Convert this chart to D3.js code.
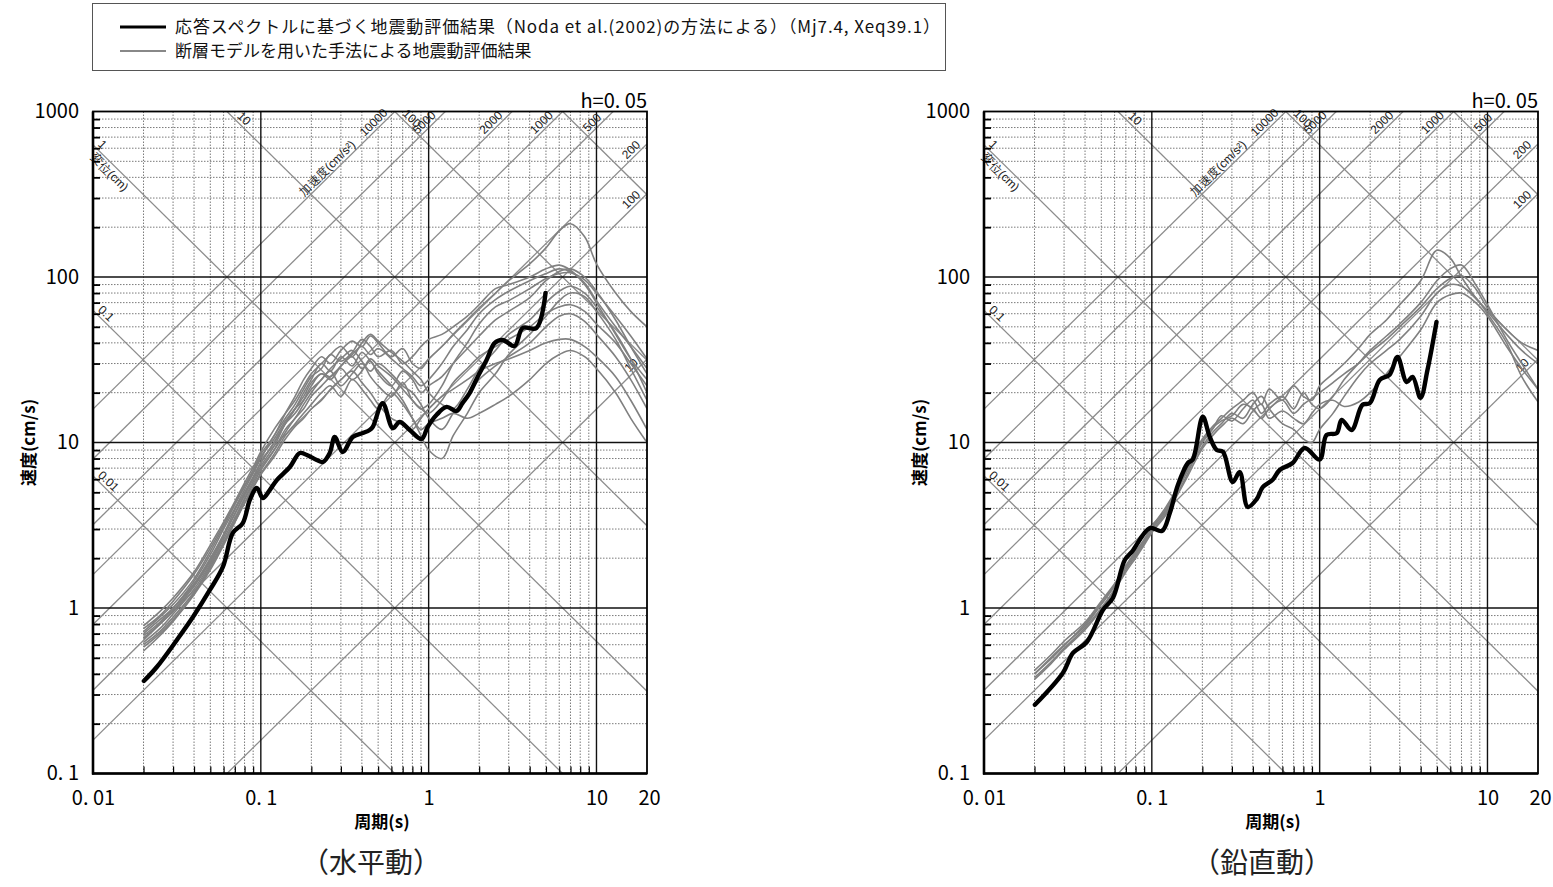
<!DOCTYPE html>
<html><head><meta charset="utf-8">
<script src="https://cdn.jsdelivr.net/npm/d3@7"></script>
<style>
body{margin:0;background:#fff;}
svg{display:block;}
</style></head><body>
<svg id="chart" width="1553" height="887"></svg>
<script>
// ---------------- DATA ----------------
const legendLabels = ["応答スペクトルに基づく地震動評価結果（Noda et al.(2002)の方法による）（Mj7.4, Xeq39.1）",
                      "断層モデルを用いた手法による地震動評価結果"];
const captions = ["（水平動）", "（鉛直動）"];
const xTitle = "周期(s)";
const yTitle = "速度(cm/s)";
const dampingLabel = "h=0. 05";
const xTickValues = [0.01, 0.1, 1, 10, 20];
const xTickLabels = ["0. 01", "0. 1", "1", "10", "20"];
const yTickValues = [0.1, 1, 10, 100, 1000];
const yTickLabels = ["0. 1", "1", "10", "100", "1000"];
const dispLines = [0.01, 0.1, 1, 10, 100, 1000];          // cm
const accLines = [10, 100, 200, 500, 1000, 2000, 5000, 10000]; // cm/s2
const dispLeftLabels = [0.01, 0.1, 1];
const dispTopLabels = [10, 100];
const accTopLabels = [500, 1000, 2000, 5000, 10000];
const accRightLabels = [10, 100, 200];

// Noda et al. (horizontal)
const nodaT_H = [0.0201,0.024,0.0316,0.0394,0.0497,0.0594,0.0681,0.0781,0.086,0.0947,0.1028,0.113,0.1245,0.149,0.1707,0.188,0.2154,0.234,0.2575,0.2757,0.3077,0.353,0.405,0.445,0.464,0.532,0.611,0.672,0.771,0.908,0.986,1.116,1.28,1.468,1.59,1.754,1.957,2.214,2.47,2.76,3.25,3.63,4.39,4.97];
const nodaSv_H = [0.362,0.44,0.641,0.882,1.285,1.77,2.84,3.26,4.5,5.31,4.62,5.16,5.93,7.11,8.64,8.4,7.84,7.62,8.64,10.8,8.76,10.8,11.4,11.9,12.4,17.3,12.2,13.3,11.9,10.5,12.4,14.7,16.4,15.5,17.3,19.9,24.9,31.5,39.9,41.6,38.3,49.2,49.2,80];
// Noda et al. (vertical)
const nodaT_V = [0.0201,0.0295,0.0339,0.041,0.0511,0.0586,0.069,0.076,0.0973,0.1148,0.128,0.143,0.164,0.1754,0.2012,0.2215,0.2438,0.265,0.3035,0.334,0.3727,0.4217,0.458,0.525,0.578,0.69,0.814,1.0,1.10,1.264,1.352,1.55,1.80,1.99,2.28,2.61,2.91,3.30,3.58,3.99,4.39,4.97];
const nodaSv_V = [0.26,0.405,0.535,0.623,0.973,1.15,1.95,2.18,3.04,2.92,3.75,5.54,7.52,7.9,14.3,10.8,9.0,8.8,5.77,6.63,4.08,4.55,5.38,5.96,6.82,7.52,9.26,7.9,11.1,11.4,13.7,11.9,16.9,17.3,23.9,25.7,32.9,23.2,24.9,18.6,27.4,53.5];

// fault-model results, periods shared
const faultT = [0.02,0.025,0.03,0.04,0.05,0.06,0.07,0.08,0.09,0.1,0.12,0.14,0.16,0.18,0.2,0.23,0.26,0.3,0.35,0.4,0.45,0.5,0.6,0.7,0.8,0.9,1.0,1.2,1.4,1.7,2.0,2.5,3.0,4.0,5.0,6.0,7.0,8.5,10,13,16,20];
const faultSv_H = [
 [0.75,0.9,1.1,1.6,2.3,3.2,4.3,5.5,6.8,8.5,11,15,19,24,28,33,30,36,41,38,44,40,33,37,30,28,32,38,45,55,65,80,95,120,150,190,210,175,120,80,62,50],
 [0.7,0.85,1.0,1.45,2.1,3.0,4.0,5.2,6.5,8,11,14,17,21,25,28,34,31,35,42,38,33,36,30,33,38,42,45,50,58,68,85,90,100,112,118,110,90,70,45,32,24],
 [0.65,0.8,0.95,1.35,1.9,2.7,3.7,4.8,6,7.2,9.5,13,16,19,23,26,25,29,33,28,31,26,22,27,24,20,22,25,30,37,44,55,62,75,95,108,112,100,82,55,38,26],
 [0.6,0.72,0.88,1.25,1.8,2.5,3.4,4.5,5.6,6.8,9,12,14,17,20,24,27,22,26,30,25,22,19,23,18,16,15,18,23,28,33,38,42,50,60,66,68,62,52,40,30,22],
 [0.68,0.82,1.0,1.4,2.0,2.8,3.9,5,6.2,7.5,10,13,16,20,24,30,27,33,29,35,31,27,22,18,14,11,9,8,11,15,20,26,34,45,58,72,80,76,62,42,28,18],
 [0.55,0.68,0.83,1.2,1.7,2.4,3.3,4.3,5.4,6.5,8.5,11,13,15,17,20,22,19,24,21,18,16,20,17,14,12,13,14,15,14,15,17,19,24,30,34,36,33,28,20,14,10],
 [0.72,0.88,1.05,1.5,2.2,3.1,4.2,5.4,6.6,8.2,10.5,13.5,16,18,21,24,28,32,36,31,27,30,26,22,20,17,14,12,15,19,24,29,33,40,50,58,60,54,45,33,24,16],
 [0.62,0.75,0.92,1.3,1.85,2.6,3.5,4.6,5.8,7,9,11.5,14,16,19,22,25,28,24,27,32,29,25,21,18,16,17,22,30,40,52,66,72,85,98,105,106,96,80,58,44,32],
 [0.78,0.95,1.15,1.65,2.4,3.3,4.4,5.7,7.1,8.8,12,15,18,22,26,30,34,38,33,40,45,41,35,31,27,24,20,17,16,21,28,36,45,55,70,82,88,80,66,46,32,20],
 [0.58,0.7,0.85,1.22,1.75,2.45,3.3,4.3,5.3,6.4,8.2,10.5,12.5,14,16,18,21,24,27,23,20,17,14,13,12,14,16,19,21,24,27,30,32,36,40,42,42,38,33,25,18,12],
 [0.66,0.8,0.97,1.38,1.95,2.75,3.7,4.9,6.1,7.6,10,13,15,18,22,26,24,29,34,38,34,37,32,28,25,22,24,30,38,48,60,73,82,95,105,112,108,92,72,50,38,28]
];
const faultSv_V = [
 [0.42,0.52,0.63,0.82,1.1,1.4,1.8,2.2,2.6,3.1,4.0,5.2,6.8,8.8,10.5,12.5,14,16,18,20,17,21,18,22,19,18,22,26,30,37,45,55,68,95,145,130,100,75,62,45,36,30],
 [0.4,0.5,0.6,0.78,1.05,1.35,1.75,2.1,2.5,3.0,3.8,5.0,6.5,8.2,10,12,14.5,13.5,16,18,15,17,19,16,20,17,16,19,24,30,36,44,52,70,95,112,118,90,68,42,30,21],
 [0.38,0.47,0.57,0.76,1.0,1.3,1.7,2.05,2.45,2.9,3.7,4.8,6.2,8,9.5,11.5,13,15,14,17,19,16,13,12,10.5,10,12,15,19,25,30,36,42,58,80,90,88,75,60,40,25,17.6],
 [0.4,0.49,0.59,0.8,1.07,1.38,1.78,2.15,2.55,3.05,3.9,5.1,6.6,8.5,10.2,12.2,13.5,14.5,17,16,14,16,18,15,17,18.5,20,23,26,30,35,42,50,66,85,98,102,85,65,48,40,36],
 [0.37,0.46,0.56,0.74,0.98,1.28,1.65,2.0,2.4,2.85,3.6,4.7,6,7.6,9.2,11,12.5,14,13,15.5,17,14,15.5,14,13,15,17,18,16.5,17.5,20,26,33,48,70,78,80,70,58,38,28,21]
];

// ---------------- DRAWING ----------------
const svg = d3.select("#chart");
const defs = svg.append("defs");
const TOP = 111.5, BOT = 773.5;
const numFont = "'Noto Sans CJK JP', 'DejaVu Sans', sans-serif";
const smallFont = "'Liberation Sans', Arial, sans-serif";
const TWO_PI = 2 * Math.PI;

// legend
const lg = svg.append("g");
lg.append("rect").attr("x", 92.5).attr("y", 3.5).attr("width", 853).attr("height", 67)
  .attr("fill", "none").attr("stroke", "#555").attr("stroke-width", 1);
lg.append("line").attr("x1", 120).attr("x2", 166).attr("y1", 27).attr("y2", 27).attr("stroke", "#000").attr("stroke-width", 3);
lg.append("line").attr("x1", 120).attr("x2", 166).attr("y1", 51).attr("y2", 51).attr("stroke", "#888").attr("stroke-width", 2);
lg.selectAll("text").data(legendLabels).join("text")
  .attr("x", 175).attr("y", (d, i) => 27 + i * 24).attr("dy", "0.35em")
  .attr("font-family", numFont).attr("font-size", 17).attr("fill", "#111")
  .attr("textLength", (d, i) => i === 0 ? 765 : null)
  .attr("lengthAdjust", "spacing")
  .text(d => d);

const panels = [
  {x0: 93, x1: 647, T: nodaT_H, Sv: nodaSv_H, faults: faultSv_H, caption: captions[0]},
  {x0: 984, x1: 1538, T: nodaT_V, Sv: nodaSv_V, faults: faultSv_V, caption: captions[1]}
];

panels.forEach((p, idx) => {
  const x = d3.scaleLog().domain([0.01, 20]).range([p.x0, p.x1]);
  const y = d3.scaleLog().domain([0.1, 1000]).range([BOT, TOP]);
  const ang = Math.atan((y(1) - y(10)) / (x(10) - x(1))) * 180 / Math.PI;
  const clipId = "clip" + idx;
  defs.append("clipPath").attr("id", clipId).append("rect")
    .attr("x", p.x0).attr("y", TOP).attr("width", p.x1 - p.x0).attr("height", BOT - TOP);
  const g = svg.append("g");

  // minor grid
  const minorX = [], minorY = [];
  [0.01, 0.1, 1].forEach(b => { for (let m = 2; m <= 9; m++) minorX.push(b * m); });
  [0.1, 1, 10, 100].forEach(b => { for (let m = 2; m <= 9; m++) minorY.push(b * m); });
  g.append("g").selectAll("line").data(minorX).join("line")
    .attr("x1", d => x(d)).attr("x2", d => x(d)).attr("y1", TOP).attr("y2", BOT)
    .attr("stroke", "#7a7a7a").attr("stroke-width", 1).attr("stroke-dasharray", "1.5,1.5");
  g.append("g").selectAll("line").data(minorY).join("line")
    .attr("y1", d => y(d)).attr("y2", d => y(d)).attr("x1", p.x0).attr("x2", p.x1)
    .attr("stroke", "#7a7a7a").attr("stroke-width", 1).attr("stroke-dasharray", "1.5,1.5");

  // diagonal tripartite lines
  const dg = g.append("g").attr("clip-path", `url(#${clipId})`);
  dg.selectAll(".disp").data(dispLines).join("line").attr("class", "disp")
    .attr("x1", x(0.01)).attr("y1", d => y(TWO_PI * d / 0.01))
    .attr("x2", x(20)).attr("y2", d => y(TWO_PI * d / 20))
    .attr("stroke", "#8c8c8c").attr("stroke-width", 1.3);
  dg.selectAll(".acc").data(accLines).join("line").attr("class", "acc")
    .attr("x1", x(0.01)).attr("y1", d => y(d * 0.01 / TWO_PI))
    .attr("x2", x(20)).attr("y2", d => y(d * 20 / TWO_PI))
    .attr("stroke", "#8c8c8c").attr("stroke-width", 1.3);

  // major grid
  g.append("g").selectAll("line").data([0.1, 1, 10]).join("line")
    .attr("x1", d => x(d)).attr("x2", d => x(d)).attr("y1", TOP).attr("y2", BOT)
    .attr("stroke", "#111").attr("stroke-width", 1.4);
  g.append("g").selectAll("line").data([1, 10, 100]).join("line")
    .attr("y1", d => y(d)).attr("y2", d => y(d)).attr("x1", p.x0).attr("x2", p.x1)
    .attr("stroke", "#111").attr("stroke-width", 1.4);

  // diagonal labels
  const lab = g.append("g").attr("font-family", smallFont).attr("font-size", 12).attr("fill", "#222");
  dispLeftLabels.forEach(d => {
    const T = 0.0103, sv = TWO_PI * d / T;
    lab.append("text").attr("transform", `translate(${x(T)},${y(sv)}) rotate(${ang})`)
      .attr("dy", -3).attr("text-anchor", "start").text(d);
  });
  {
    const T = 0.0107, sv = TWO_PI * 1 / T;
    lab.append("text").attr("transform", `translate(${x(T)},${y(sv)}) rotate(${ang})`)
      .attr("dy", 12).attr("text-anchor", "start").text("変位(cm)");
  }
  dispTopLabels.forEach(d => {
    const sv = y.invert(TOP + 12), T = TWO_PI * d / sv;
    lab.append("text").attr("transform", `translate(${x(T)},${y(sv)}) rotate(${ang})`)
      .attr("dy", -3).attr("text-anchor", "middle").text(d);
  });
  accTopLabels.forEach(a => {
    const sv = y.invert(TOP + 16), T = TWO_PI * sv / a;
    lab.append("text").attr("transform", `translate(${x(T)},${y(sv)}) rotate(${-ang})`)
      .attr("dy", -3).attr("text-anchor", "middle").text(a);
  });
  {
    const sv = y.invert(TOP + 36), T = TWO_PI * sv / 10000;
    lab.append("text").attr("transform", `translate(${x(T)},${y(sv)}) rotate(${-ang})`)
      .attr("dy", -3).attr("text-anchor", "end").text("加速度(cm/s²)");
  }
  accRightLabels.forEach(a => {
    const T = x.invert(p.x1 - 11), sv = a * T / TWO_PI;
    lab.append("text").attr("transform", `translate(${x(T)},${y(sv)}) rotate(${-ang})`)
      .attr("dy", -3).attr("text-anchor", "middle").text(a);
  });

  // curves
  const line = d3.line().x(d => x(d[0])).y(d => y(d[1])).curve(d3.curveCatmullRom.alpha(0.5));
  const cg = g.append("g").attr("clip-path", `url(#${clipId})`);
  cg.selectAll(".fault").data(p.faults).join("path").attr("class", "fault")
    .attr("d", s => line(faultT.map((t, i) => [t, s[i]])))
    .attr("fill", "none").attr("stroke", "#808080").attr("stroke-width", 1.6).attr("stroke-linejoin", "round");
  cg.append("path").attr("d", line(p.T.map((t, i) => [t, p.Sv[i]])))
    .attr("fill", "none").attr("stroke", "#000").attr("stroke-width", 4.4)
    .attr("stroke-linejoin", "round").attr("stroke-linecap", "round");

  // minor ticks (inward)
  const axL = g.append("g").attr("transform", `translate(${p.x0},0)`)
    .call(d3.axisLeft(y).tickValues(minorY).tickSize(-7).tickFormat(""));
  axL.select(".domain").remove();
  axL.selectAll("line").attr("stroke", "#000").attr("stroke-width", 1.8);
  const axB = g.append("g").attr("transform", `translate(0,${BOT})`)
    .call(d3.axisBottom(x).tickValues(minorX).tickSize(-7).tickFormat(""));
  axB.select(".domain").remove();
  axB.selectAll("line").attr("stroke", "#000").attr("stroke-width", 1.2);

  // frame
  g.append("rect").attr("x", p.x0).attr("y", TOP).attr("width", p.x1 - p.x0).attr("height", BOT - TOP)
    .attr("fill", "none").attr("stroke", "#000").attr("stroke-width", 1.8);
  g.append("line").attr("x1", p.x0).attr("x2", p.x0).attr("y1", TOP).attr("y2", BOT + 1).attr("stroke", "#000").attr("stroke-width", 2.6);
  g.append("line").attr("x1", p.x0 - 1).attr("x2", p.x1).attr("y1", BOT).attr("y2", BOT).attr("stroke", "#000").attr("stroke-width", 2.6);

  // tick labels
  const yl = g.append("g").attr("transform", `translate(${p.x0},0)`)
    .call(d3.axisLeft(y).tickValues(yTickValues).tickSize(0).tickPadding(14).tickFormat((d, i) => yTickLabels[i]));
  yl.select(".domain").remove();
  yl.selectAll("text").attr("font-family", numFont).attr("font-size", 20).attr("fill", "#000");
  const xl = g.append("g").attr("transform", `translate(0,${BOT})`)
    .call(d3.axisBottom(x).tickValues(xTickValues).tickSize(0).tickPadding(17).tickFormat((d, i) => xTickLabels[i]));
  xl.select(".domain").remove();
  xl.selectAll("text").attr("font-family", numFont).attr("font-size", 20).attr("fill", "#000")
    .attr("dx", d => d === 20 ? 2 : 0);

  // titles
  g.append("text").attr("x", p.x1).attr("y", TOP - 4).attr("text-anchor", "end")
    .attr("font-family", numFont).attr("font-size", 20).text(dampingLabel);
  g.append("text").attr("transform", `translate(${p.x0 - 64},${(TOP + BOT) / 2}) rotate(-90)`)
    .attr("text-anchor", "middle").attr("dy", "0.35em")
    .attr("font-family", numFont).attr("font-weight", "bold").attr("font-size", 17).text(yTitle);
  g.append("text").attr("x", (p.x0 + p.x1) / 2 + 12).attr("y", 822).attr("dy", "0.35em")
    .attr("text-anchor", "middle").attr("font-family", numFont).attr("font-weight", "bold")
    .attr("font-size", 17).text(xTitle);
  g.append("text").attr("x", (p.x0 + p.x1) / 2 + 1).attr("y", 863).attr("dy", "0.35em")
    .attr("text-anchor", "middle").attr("font-family", numFont)
    .attr("font-size", 28).attr("fill", "#222").text(p.caption);
});
</script>
</body></html>
